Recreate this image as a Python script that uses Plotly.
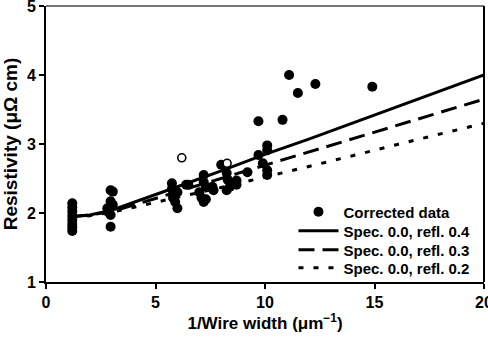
import plotly.graph_objects as go

# Measured (corrected) data
data_x = [1.2, 1.2, 1.2, 1.2, 1.2, 1.2, 1.2, 1.2,
          2.95, 3.05, 2.95, 3.05, 2.8, 2.85, 2.95, 2.95,
          5.75, 5.75, 5.8, 5.9, 6.0, 6.4, 6.5, 6.0, 5.8,
          7.2, 7.2, 7.3, 7.6, 7.65, 7.1, 7.2, 7.3, 7.0,
          8.0, 8.25, 8.3, 8.25, 8.4, 8.7, 8.7,
          9.2, 9.7, 9.9, 10.1, 10.1, 10.1, 10.1,
          9.7, 10.8, 11.1, 11.5, 12.3, 14.9]
data_y = [2.14, 2.08, 2.02, 1.96, 1.90, 1.84, 1.79, 1.74,
          2.33, 2.31, 2.17, 2.12, 2.07, 2.01, 1.97, 1.80,
          2.43, 2.35, 2.27, 2.16, 2.07, 2.41, 2.41, 2.30, 2.22,
          2.55, 2.45, 2.38, 2.38, 2.33, 2.22, 2.16, 2.20, 2.30,
          2.70, 2.58, 2.48, 2.33, 2.38, 2.41, 2.47,
          2.59, 2.84, 2.72, 2.98, 2.91, 2.62, 2.55,
          3.33, 3.35, 4.00, 3.74, 3.87, 3.83]

# Open-circle points
open_x = [6.2, 8.27]
open_y = [2.80, 2.72]

# Model curves
model_x = [1.2, 2, 3, 4, 5, 6, 8, 10, 12, 14, 16, 18, 20]
refl04 = [1.95, 1.97, 2.04, 2.15, 2.27, 2.38, 2.61, 2.85, 3.07, 3.30, 3.53, 3.76, 4.00]
refl03 = [1.95, 1.97, 2.02, 2.11, 2.21, 2.31, 2.50, 2.70, 2.89, 3.08, 3.27, 3.46, 3.65]
refl02 = [1.94, 1.96, 2.01, 2.08, 2.15, 2.22, 2.37, 2.52, 2.67, 2.83, 2.99, 3.15, 3.30]

legend_names = ["Corrected data", "Spec. 0.0, refl. 0.4",
                "Spec. 0.0, refl. 0.3", "Spec. 0.0, refl. 0.2"]

x_ticks = [0, 5, 10, 15, 20]
y_ticks = [1, 2, 3, 4, 5]

FONT = "Liberation Sans, Arial, sans-serif"

fig = go.Figure()
fig.add_trace(go.Scatter(x=data_x, y=data_y, mode="markers", name="<b>%s</b>" % legend_names[0],
                         legend="legend",
                         marker=dict(color="black", size=10, line=dict(width=0))))
fig.add_trace(go.Scatter(x=open_x, y=open_y, mode="markers", showlegend=False,
                         marker=dict(color="white", size=8, line=dict(color="black", width=1.6))))
fig.add_trace(go.Scatter(x=model_x, y=refl04, mode="lines", name="<b>%s</b>" % legend_names[1],
                         legend="legend2",
                         line=dict(color="black", width=3)))
fig.add_trace(go.Scatter(x=model_x, y=refl03, mode="lines", name="<b>%s</b>" % legend_names[2],
                         legend="legend3",
                         line=dict(color="black", width=3, dash="16px,8px")))
fig.add_trace(go.Scatter(x=model_x, y=refl02, mode="lines", name="<b>%s</b>" % legend_names[3],
                         legend="legend4",
                         line=dict(color="black", width=3, dash="5px,10px")))

# frame: top (grey) and right (black)
fig.add_shape(type="line", xref="paper", yref="paper", x0=0, x1=1, y0=1, y1=1,
              line=dict(color="#777777", width=2))
fig.add_shape(type="line", xref="paper", yref="paper", x0=1, x1=1, y0=0, y1=1,
              line=dict(color="black", width=2))

def leg(y):
    return dict(x=0.565, y=y, xanchor="left", yanchor="middle",
                bgcolor="rgba(0,0,0,0)", font=dict(size=15, family=FONT),
                itemwidth=40)

fig.update_layout(
    width=488, height=337,
    margin=dict(l=46, r=4, t=6, b=55, autoexpand=False),
    paper_bgcolor="white", plot_bgcolor="white",
    font=dict(family=FONT, color="black", size=14),
    showlegend=True,
    legend=leg(0.2536),
    legend2=leg(0.1848),
    legend3=leg(0.1159),
    legend4=leg(0.0507),
    xaxis=dict(range=[0, 20], tickvals=x_ticks, ticktext=["<b>%d</b>" % v for v in x_ticks],
               showgrid=False, zeroline=False, showline=True, linecolor="black", linewidth=2,
               ticks="outside", ticklen=5, tickwidth=1.5, tickcolor="black",
               ticklabeloverflow="allow", automargin=False,
               tickfont=dict(size=16, family=FONT),
               title=dict(text="<b>1/Wire width (μm<sup>−1</sup>)</b>", font=dict(size=17), standoff=6)),
    yaxis=dict(range=[1, 5], tickvals=y_ticks, ticktext=["<b>%d</b>" % v for v in y_ticks],
               showgrid=False, zeroline=False, showline=True, linecolor="black", linewidth=2,
               ticks="outside", ticklen=5, tickwidth=1.5, tickcolor="black",
               ticklabeloverflow="allow", automargin=False,
               tickfont=dict(size=16, family=FONT),
               title=dict(text="<b>Resistivity (μΩ cm)</b>", font=dict(size=19), standoff=4)),
)

fig.write_html("out.html")
